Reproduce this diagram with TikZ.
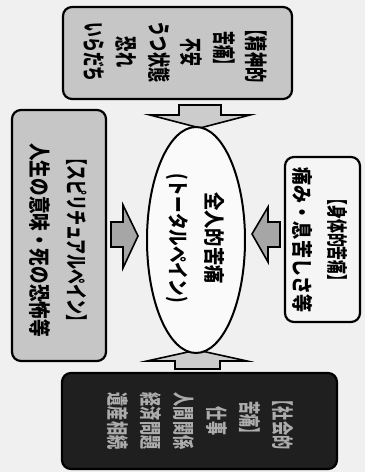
\documentclass[tikz,border=0pt]{standalone}
\usepackage{fontspec}
\usepackage{graphicx}
\usetikzlibrary{shapes.geometric}
\newfontfamily\jp{Noto Sans CJK JP}
\newcommand\hsq[2]{\scalebox{#1}[1]{#2}}
\begin{document}
\begin{tikzpicture}[x=1pt,y=-1pt,
  box/.style={draw=black, line width=2.2pt, rounded corners=9pt, inner sep=0pt},
  vtext/.style={rotate=-90, align=center, text=black, inner sep=0pt},
  blockarrow/.style={draw=black, line width=1.6pt, line join=miter}]
\useasboundingbox (0,0) rectangle (365,472);
\fill[gray!12] (0,0) rectangle (365,472);

% boxes
\node[box, fill=gray!45, minimum width=229pt, minimum height=92pt] (mental) at (177.5,53) {};
\node[box, fill=gray!8, minimum width=75pt, minimum height=165pt] (physical) at (322.5,239.5) {};
\node[box, fill=gray!45, minimum width=94pt, minimum height=251pt] (spiritual) at (59,235.5) {};
\node[box, fill=black!88, minimum width=275pt, minimum height=96pt] (social) at (199.5,421) {};

% block arrows
\draw[blockarrow, fill=gray!40] (179,105) -- (221,105) -- (221,115) -- (250,115) -- (200,128) -- (150,115) -- (179,115) -- cycle;
\draw[blockarrow, fill=gray!40] (175,369) -- (220,369) -- (220,361) -- (247,361) -- (197,350) -- (147,361) -- (175,361) -- cycle;
\draw[blockarrow, fill=gray!70] (111,222) -- (111,247) -- (123,247) -- (123,268) -- (138,236) -- (123,205) -- (123,222) -- cycle;
\draw[blockarrow, fill=gray!70] (280,222) -- (280,247) -- (268,247) -- (268,262) -- (252,234) -- (268,207) -- (268,222) -- cycle;

% central ellipse
\node[draw=black, line width=2pt, fill=gray!4, ellipse, minimum width=98pt, minimum height=226pt, inner sep=0pt] (total) at (196,240) {};

% texts
\node[vtext, font=\jp\bfseries\fontsize{23}{32.5}\selectfont] (mentalT) at (175,52)
  {\hsq{0.66}{【精神的}\\\hsq{0.6}{苦痛】}\\\hsq{0.6}{不安}\\\hsq{0.66}{うつ状態}\\\hsq{0.66}{恐れ}\\\hsq{0.64}{いらだち}};
\node[vtext, font=\jp\bfseries\fontsize{21}{35}\selectfont] (physicalT) at (320,240)
  {\hsq{0.66}{【身体的苦痛】}\\\hsq{0.86}{痛み・息苦しさ等}};
\node[vtext, font=\jp\bfseries\fontsize{22}{37}\selectfont] (spiritualT) at (58,240)
  {\hsq{0.68}{【スピリチュアルペイン】}\\\hsq{0.8}{人生の意味・死の恐怖等}};
\node[vtext, text=gray!65, font=\jp\bfseries\fontsize{22}{33}\selectfont] (socialT) at (200,421)
  {\hsq{0.64}{【社会的}\\\hsq{0.6}{苦痛】}\\\hsq{0.64}{仕事}\\\hsq{0.64}{人間関係}\\\hsq{0.64}{経済問題}\\\hsq{0.64}{遺産相続}};
\node[vtext, font=\jp\bfseries\fontsize{21}{36}\selectfont] (totalT) at (195,238)
  {\hsq{0.87}{全人的苦痛}\\\hsq{0.79}{(トータルペイン)}};
\end{tikzpicture}
\end{document}
